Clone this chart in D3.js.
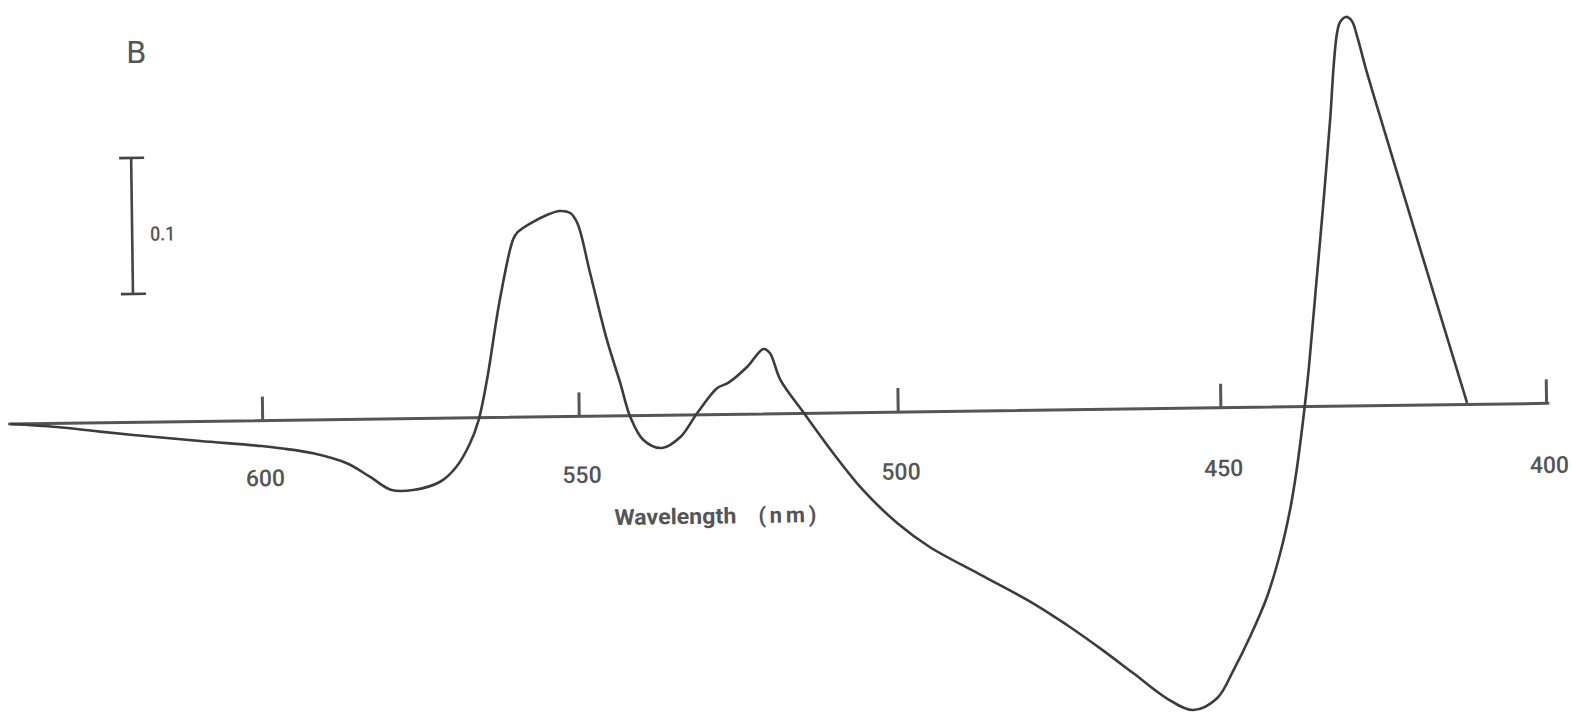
<!DOCTYPE html>
<html><head><meta charset="utf-8">
<script src="https://cdn.jsdelivr.net/npm/d3@7"></script>
<style>html,body{margin:0;padding:0;background:#fff;} svg{display:block}</style>
</head><body><svg id="c" width="1572" height="723"></svg>
<script>
// Difference spectrum, panel B
const wavelength = [639.8,632.5,625.7,617.8,609.9,600.2,597.3,592.1,586.8,583.2,579.8,576.4,572.1,569.5,567.3,565.9,564.5,562.3,560.1,559.3,554.7,552.6,551.0,549.9,548.0,545.5,543.5,542.0,540.0,537.1,534.2,531.5,528.3,526.6,523.6,521.0,520.0,518.4,514.9,510.3,505.7,500.4,495.4,487.7,479.5,474.3,469.2,464.1,459.0,454.9,451.2,448.6,446.0,443.3,441.2,439.6,438.5,437.1,436.4,435.2,433.8,432.6,432.0,431.4,430.9,430.0,429.1,428.3,427.0,425.7,421.3,416.9,412.2];
const deltaA = [0,-0.0027,-0.0065,-0.0106,-0.0144,-0.0187,-0.0205,-0.0245,-0.0322,-0.0423,-0.0523,-0.0525,-0.0467,-0.0358,-0.0187,-0.0017,0.0276,0.0863,0.1303,0.1362,0.1484,0.1512,0.1496,0.1422,0.1053,0.0559,0.0241,-0.0010,-0.0180,-0.0241,-0.0162,0.0013,0.0195,0.0231,0.0346,0.0477,0.0447,0.0248,0.0010,-0.0294,-0.0569,-0.0815,-0.0995,-0.1201,-0.1419,-0.1582,-0.1757,-0.1944,-0.2131,-0.2220,-0.2136,-0.1930,-0.1687,-0.1394,-0.1076,-0.0759,-0.0465,0.0012,0.0291,0.0857,0.1517,0.2127,0.2494,0.2744,0.2824,0.2861,0.2831,0.2713,0.2469,0.2248,0.1517,0.0786,0.0011];
const tickValues = [600,550,500,450,400];
const tickLabels = ["600","550","500","450","400"];
const panelLabel = "B";
const axisTitle = ["Wavelength", "(nm)"];
const scaleBarValue = 0.1;
const scaleBarLabel = "0.1";
const scaleBarBase = 0.0944;

const svg = d3.select("#c");

// Scanned figure is slightly rotated
const g = svg.append("g").attr("transform","translate(11,424) rotate(-0.77)");

const x = d3.scaleLinear().domain(tickValues).range([251.7,568.3,887.3,1210,1535.7]);
const y = d3.scaleLinear().domain([0,1]).range([0,-1360]);

// baseline axis
g.append("line")
  .attr("x1", x(640)).attr("x2", x(400)+1.5)
  .attr("y1", y(0)).attr("y2", y(0))
  .attr("stroke", "#555").attr("stroke-width", 3).attr("stroke-linecap","round");

// ticks
g.selectAll(".tick").data(tickValues).enter().append("line")
  .attr("x1", d=>x(d)).attr("x2", d=>x(d))
  .attr("y1", y(0)).attr("y2", y(0)-24)
  .attr("stroke", "#555").attr("stroke-width", 3);

g.selectAll(".tl").data(tickValues).enter().append("text")
  .attr("x", d=>x(d)+2).attr("y", (d,i)=>y(0)+65.5+i)
  .attr("text-anchor","middle")
  .attr("font-family","Roboto, 'DejaVu Sans', sans-serif")
  .attr("font-weight", 500)
  .attr("font-size", 23)
  .attr("fill","#555")
  .text((d,i)=>tickLabels[i]);

// axis title
const title = g.append("text")
  .attr("y", y(0)+109)
  .attr("font-family","Roboto, 'DejaVu Sans', sans-serif")
  .attr("font-weight", 700)
  .attr("font-size", 22)
  .attr("fill","#555");
title.append("tspan").attr("x", 602).attr("textLength",122).attr("lengthAdjust","spacingAndGlyphs").text(axisTitle[0]);
title.append("tspan").attr("x", 746).attr("textLength",58).attr("lengthAdjust","spacing").text(axisTitle[1]);

// curve
const pts = wavelength.map((w,i)=>[w, deltaA[i]]);
const line = d3.line().x(d=>x(d[0])).y(d=>y(d[1])).curve(d3.curveCatmullRom.alpha(0.5));
g.append("path").datum(pts)
  .attr("d", line)
  .attr("fill","none").attr("stroke", "#3c3c3c").attr("stroke-width", 2.6)
  .attr("stroke-linejoin","round");

// scale bar
const sbx = 123.7;
const sb = g.append("g").attr("stroke","#444").attr("stroke-width",2.6);
sb.append("line").attr("x1",sbx).attr("x2",sbx).attr("y1",y(scaleBarBase)).attr("y2",y(scaleBarBase+scaleBarValue));
sb.append("line").attr("x1",sbx-12).attr("x2",sbx+13).attr("y1",y(scaleBarBase)).attr("y2",y(scaleBarBase));
sb.append("line").attr("x1",sbx-12).attr("x2",sbx+13).attr("y1",y(scaleBarBase+scaleBarValue)).attr("y2",y(scaleBarBase+scaleBarValue));
g.append("text").attr("x", sbx+18).attr("y", y(scaleBarBase+scaleBarValue*0.39))
  .attr("font-family","Roboto, 'DejaVu Sans', sans-serif")
  .attr("font-weight", 500).attr("font-size", 20).attr("fill","#555")
  .attr("textLength", 25).attr("lengthAdjust","spacingAndGlyphs")
  .text(scaleBarLabel);

// panel label
svg.append("text").attr("x",126).attr("y",63)
  .attr("font-family","'DejaVu Sans', sans-serif")
  .attr("font-size", 30).attr("fill","#555")
  .text(panelLabel);
</script></body></html>
